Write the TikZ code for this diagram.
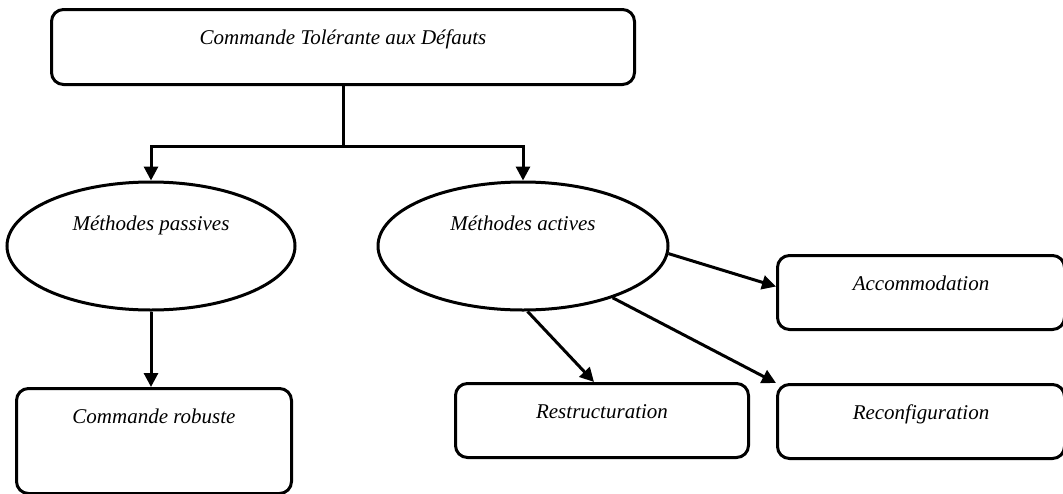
\documentclass[tikz,border=0pt]{standalone}
\usepackage{fontspec}
\setmainfont{Liberation Serif}
\usetikzlibrary{arrows.meta,shapes.geometric}
\begin{document}
\begin{tikzpicture}[x=1pt,y=-1pt,
  every node/.style={font=\fontsize{21}{25}\selectfont\itshape},
  rbox/.style={draw, line width=3pt, rounded corners=12pt, inner sep=0pt,
    text height=35pt, anchor=north west},
  oval/.style={draw, ellipse, line width=3pt, inner sep=0pt,
    minimum width=288pt, minimum height=128pt, text height=10pt, text depth=42pt},
  conn/.style={line width=3pt},
  arr/.style={line width=3pt, -{Triangle[length=14pt,width=14pt]}}]
\useasboundingbox (0,0) rectangle (1063,493);
% boxes
\node[rbox, minimum width=583pt, text depth=40pt] (top) at (50,8) {Commande Tolérante aux Défauts};
\node[oval] (passive) at (151,246) {Méthodes passives};
\node[oval, minimum width=290pt] (active) at (523,246) {Méthodes actives};
\node[rbox, minimum width=275pt, text depth=70pt] (robuste) at (15,387) {Commande robuste};
\node[rbox, minimum width=287pt, text depth=39pt] (acc) at (776,254) {Accommodation};
\node[rbox, minimum width=293pt, text depth=39pt] (restr) at (454,382) {Restructuration};
\node[rbox, minimum width=287pt, text depth=39pt] (reconf) at (776,383) {Reconfiguration};
% connectors
\coordinate (j) at ([yshift=-60pt]top.south);
\draw[conn] (top.south) -- (j);
\draw[arr] (j) -| (passive.north);
\draw[arr] (j) -| (active.north);
\draw[arr] (passive.south) -- (passive.south |- robuste.north);
\draw[arr] (active.-3) -- ([yshift=6pt]acc.west);
\draw[arr] (active.-86) -- ([xshift=-8pt]restr.north);
\draw[arr] (active.-30) -- (reconf.north west);
\end{tikzpicture}
\end{document}
